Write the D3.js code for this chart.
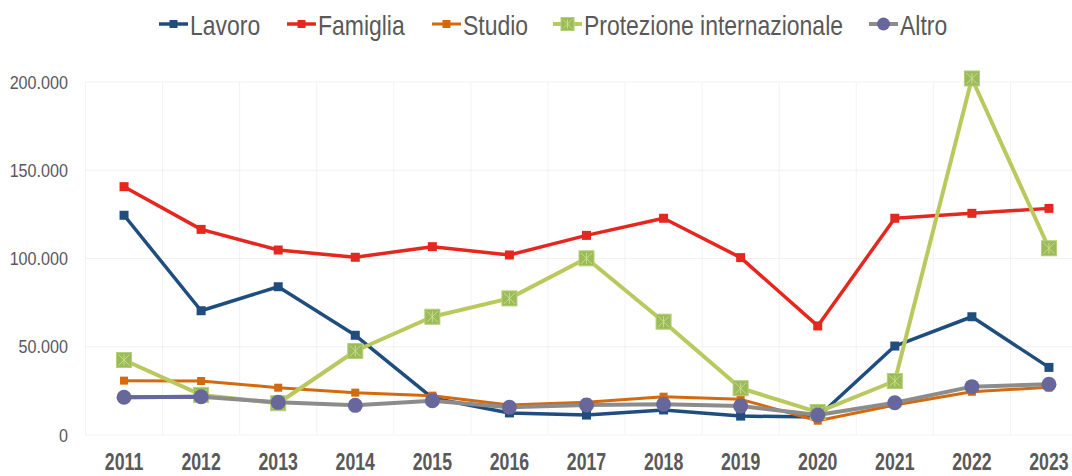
<!DOCTYPE html>
<html>
<head>
<meta charset="utf-8">
<script src="https://cdn.jsdelivr.net/npm/d3@7"></script>
<style>
  body { margin: 0; background: #fff; }
  svg { display: block; font-family: "Liberation Sans", Arial, sans-serif; }
  .grid line { stroke: #f2f2f2; stroke-width: 1; }
  .y-label { fill: #595959; font-size: 19px; }
  .x-label { fill: #595959; font-size: 23px; font-weight: bold; }
  .legend-label { fill: #595959; font-size: 28px; }
</style>
</head>
<body>
<div id="chart"></div>
<script>
const years = ['2011', '2012', '2013', '2014', '2015', '2016', '2017', '2018', '2019', '2020', '2021', '2022', '2023'];

const lavoro     = [124500, 70400, 84000, 56500, 21000, 12500, 11300, 14200, 10700, 10200, 50400, 67000, 38300];
const famiglia   = [140700, 116500, 104800, 100700, 106700, 102000, 113100, 122800, 100500, 61800, 122800, 125600, 128400];
const studio     = [30800, 30600, 26800, 24000, 22300, 17000, 18500, 21700, 20200, 8100, 17000, 24500, 27000];
const protezione = [42500, 22700, 18000, 47600, 67000, 77400, 100100, 64200, 26500, 13000, 30600, 202000, 105800];
const altro      = [21400, 21700, 18500, 16800, 19400, 15700, 17000, 17400, 16400, 11300, 18300, 27400, 28700];

const yTicks = [0, 50000, 100000, 150000, 200000];

const config = {
    width: 1072,
    height: 476,
    left: 85.5,
    right: 1087.5,
    top: 82,
    bottom: 435,
};

const series = [
    { name: 'Lavoro', values: lavoro, color: '#1f4e7e', width: 3.5, marker: 'square', size: 9 },
    { name: 'Famiglia', values: famiglia, color: '#e4271f', width: 3.5, marker: 'square', size: 9 },
    { name: 'Studio', values: studio, color: '#d5690d', width: 3, marker: 'square', size: 8 },
    { name: 'Protezione internazionale', values: protezione, color: '#b9c95e', width: 4, marker: 'cross', size: 15 },
    { name: 'Altro', values: altro, color: '#8c8c8c', width: 4, marker: 'circle', size: 15 },
];

// no narrow font installed: squeeze each text horizontally around its anchor x
function condense(sel, k) {
    sel.each(function () {
        const t = d3.select(this);
        const x0 = +(t.attr('x') || 0);
        const prev = t.attr('transform') || '';
        t.attr('transform', `${prev} translate(${x0},0) scale(${k},1) translate(${-x0},0)`);
    });
}

const svg = d3.select('#chart')
    .append('svg')
    .attr('width', config.width)
    .attr('height', config.height)
;

const x = d3.scaleBand()
    .domain(years)
    .range([config.left, config.right])
    .padding(0)
;
const cx = d => x(d) + x.bandwidth() / 2;

const y = d3.scaleLinear()
    .domain([0, 200000])
    .range([config.bottom, config.top])
;

// gridlines
const grid = svg.append('g').attr('class', 'grid');
grid.selectAll('.h')
    .data(yTicks)
    .enter()
    .append('line')
    .attr('x1', config.left)
    .attr('x2', config.right)
    .attr('y1', d => y(d))
    .attr('y2', d => y(d))
;
grid.selectAll('.v')
    .data(years)
    .enter()
    .append('line')
    .attr('x1', d => x(d))
    .attr('x2', d => x(d))
    .attr('y1', config.top)
    .attr('y2', config.bottom)
;

// y axis labels
const fmt = d3.formatLocale({ decimal: ',', thousands: '.', grouping: [3], currency: ['', '€'] }).format(',');
const yAxis = d3.axisLeft(y).tickValues(yTicks).tickFormat(fmt).tickSize(0).tickPadding(0);
const yg = svg.append('g')
    .attr('transform', 'translate(68,0)')
    .call(yAxis)
;
yg.select('.domain').remove();
yg.selectAll('text').attr('class', 'y-label').attr('fill', null).attr('font-size', null).attr('font-family', null);
condense(yg.selectAll('text'), 0.85);

// x axis labels
const xAxis = d3.axisBottom(x).tickSize(0).tickPadding(0);
const xg = svg.append('g')
    .attr('transform', 'translate(0,470)')
    .call(xAxis)
;
xg.select('.domain').remove();
xg.selectAll('text').attr('class', 'x-label').attr('fill', null).attr('font-size', null).attr('font-family', null).attr('dy', null).attr('y', 0);
condense(xg.selectAll('text'), 0.77);

const line = d3.line()
    .x((d, i) => cx(years[i]))
    .y(d => y(d))
;

function drawMarker(g, s, px, py) {
    if (s.marker === 'square') {
        g.append('rect')
            .attr('x', px - s.size / 2)
            .attr('y', py - s.size / 2)
            .attr('width', s.size)
            .attr('height', s.size)
            .attr('fill', s.color)
        ;
    } else if (s.marker === 'cross') {
        const h = s.size / 2;
        g.append('rect')
            .attr('x', px - h)
            .attr('y', py - h)
            .attr('width', s.size)
            .attr('height', s.size)
            .attr('fill', '#9bbb59')
            .attr('stroke', '#b5cf7a')
            .attr('stroke-width', 1)
        ;
        g.append('path')
            .attr('d', `M${px - h + 2},${py - h + 2}L${px + h - 2},${py + h - 2}M${px + h - 2},${py - h + 2}L${px - h + 2},${py + h - 2}M${px},${py - h + 2}L${px},${py + h - 2}`)
            .attr('stroke', '#c9dc8e')
            .attr('stroke-width', 1)
            .attr('fill', 'none')
        ;
    } else {
        g.append('circle')
            .attr('cx', px)
            .attr('cy', py)
            .attr('r', s.size / 2)
            .attr('fill', '#68679c')
        ;
    }
}

// lines and markers
series.forEach(s => {
    const g = svg.append('g');
    g.append('path')
        .attr('d', line(s.values))
        .attr('fill', 'none')
        .attr('stroke', s.color)
        .attr('stroke-width', s.width)
        .attr('stroke-linejoin', 'round')
    ;
    if (s.name === 'Altro') {
        // first segment is drawn in the marker colour in the original
        g.append('path')
            .attr('d', line.defined((d, i) => i < 2)(s.values))
            .attr('fill', 'none')
            .attr('stroke', '#68679c')
            .attr('stroke-width', s.width)
        ;
        line.defined(() => true);
    }
    s.values.forEach((v, i) => drawMarker(g, s, cx(years[i]), y(v)));
});

// legend
const legendX = [159, 287, 432, 553, 869];
const legend = svg.append('g');
series.forEach((s, i) => {
    const lx = legendX[i];
    const ly = 24;
    legend.append('line')
        .attr('x1', lx)
        .attr('x2', lx + 29)
        .attr('y1', ly)
        .attr('y2', ly)
        .attr('stroke', s.color)
        .attr('stroke-width', s.width)
    ;
    const ms = Object.assign({}, s, { size: s.marker === 'square' ? 8 : 13 });
    drawMarker(legend, ms, lx + 14.5, ly);
    legend.append('text')
        .attr('class', 'legend-label')
        .attr('x', lx + 31)
        .attr('y', ly + 11)
        .text(s.name)
    ;
});
condense(legend.selectAll('text'), 0.82);
</script>
</body>
</html>
